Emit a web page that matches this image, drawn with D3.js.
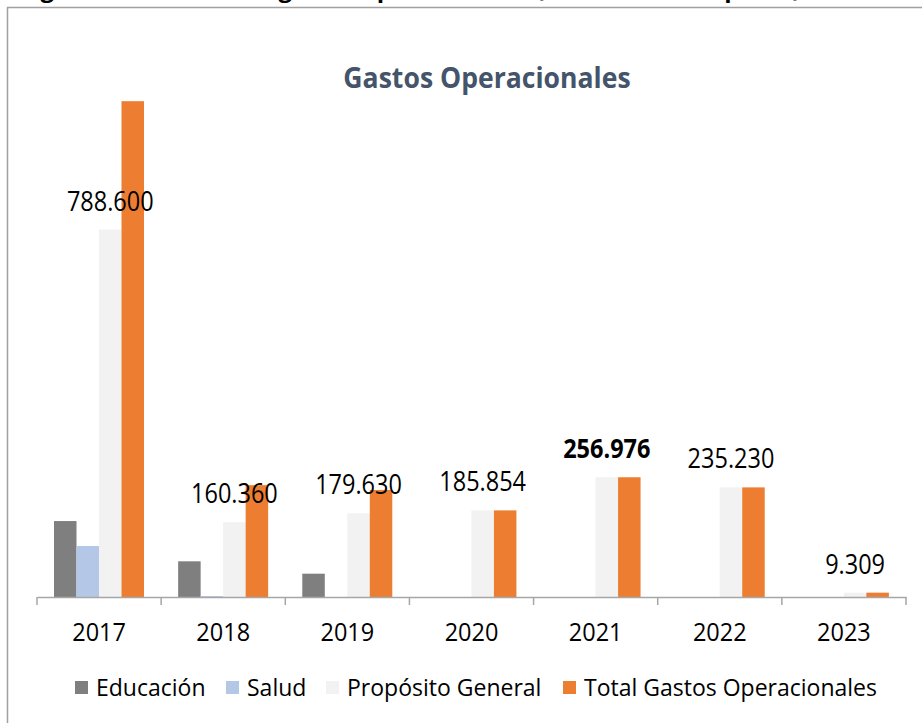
<!DOCTYPE html>
<html>
<head>
<meta charset="utf-8">
<script src="https://cdn.jsdelivr.net/npm/d3@7"></script>
<style>
  body { margin: 0; background: #fff; }
  svg { display: block; font-family: "Open Sans", sans-serif; }
</style>
</head>
<body>
<svg width="922" height="723"></svg>
<script>
// values (labels are thousands, "." separator)
var years      = ["2017", "2018", "2019", "2020", "2021", "2022", "2023"];
var series     = ["Educación", "Salud", "Propósito General", "Total Gastos Operacionales"];
var educacion  = [163000, 76600, 50000, 0, 0, 0, 0];
var salud      = [109400, 2000, 0, 0, 0, 0, 0];
var proposito  = [788600, 160360, 179630, 185854, 256976, 235230, 9309];
var totalGasto = [1064000, 240000, 229630, 185854, 256976, 235230, 9309];
var colors     = ["#7f7f7f", "#b4c7e7", "#f2f2f2", "#ed7d31"];
var boldYear   = "2021";

var svg = d3.select("svg"),
    sx  = 0.87;   // the original text looks squeezed sideways

var fmt = d3.formatLocale({decimal: ",", thousands: ".", grouping: [3], currency: ["$", ""]}).format(",");

function place(sel, x, y, k) {
  return sel.attr("transform", "translate(" + x + "," + y + ") scale(" + (k || sx) + ",1)");
}

var table = years.map(function (yr, i) {
  return {year: yr, vals: [educacion[i], salud[i], proposito[i], totalGasto[i]]};
});

// caption of the page, mostly cut off at the top
place(svg.append("text"), 20, -3, 1)
  .attr("font-weight", "bold")
  .attr("font-size", 24)
  .attr("fill", "#000")
  .text("Figura 6. Histórico de gastos operacionales (en millones de pesos)");

// chart frame
svg.append("rect")
  .attr("x", 7.5).attr("y", 7.5)
  .attr("width", 1000).attr("height", 1000)
  .attr("fill", "none")
  .attr("stroke", "#a0a0a0")
  .attr("stroke-width", 1.5);

var x = d3.scaleBand()
  .domain(years)
  .range([37, 906]);

var xs = d3.scaleBand()
  .domain(series)
  .range([17, 107]);

var y = d3.scaleLinear()
  .domain([0, 1000000])
  .range([597, 131]);

var groups = svg.selectAll(".yr")
  .data(table)
  .enter().append("g")
    .attr("class", "yr")
    .attr("transform", function (d) { return "translate(" + x(d.year) + ",0)"; });

groups.selectAll("rect")
  .data(function (d) { return d.vals; })
  .enter().append("rect")
    .attr("x", function (d, i) { return xs(series[i]); })
    .attr("y", function (d) { return y(d); })
    .attr("width", xs.bandwidth())
    .attr("height", function (d) { return y(0) - y(d); })
    .attr("fill", function (d, i) { return colors[i]; });

// labels sit over the Propósito General bar
groups.each(function (d) {
  var cx = xs(series[2]) + xs.bandwidth() / 2;
  place(d3.select(this).append("text"), cx, y(d.vals[2]) - 19)
    .attr("text-anchor", "middle")
    .attr("font-size", 27)
    .attr("font-weight", d.year === boldYear ? "bold" : "normal")
    .attr("fill", "#000")
    .text(fmt(d.vals[2]));
});

// x axis
var axis = svg.append("g")
  .attr("transform", "translate(0," + y(0) + ")")
  .call(d3.axisBottom(x).tickSize(0).tickFormat(""));
axis.select(".domain").attr("stroke", "#a6a6a6").attr("stroke-width", 1.5);
axis.selectAll(".tick").remove();

svg.append("g").selectAll("line")
  .data(years.concat(["end"]))
  .enter().append("line")
    .attr("x1", function (d) { return d === "end" ? x.range()[1] : x(d); })
    .attr("x2", function (d) { return d === "end" ? x.range()[1] : x(d); })
    .attr("y1", y(0))
    .attr("y2", y(0) + 8)
    .attr("stroke", "#a6a6a6")
    .attr("stroke-width", 1.5);

svg.append("g").selectAll("text")
  .data(years)
  .enter().append("text")
    .each(function (d) { place(d3.select(this), x(d) + x.bandwidth() / 2, 641, 0.94); })
    .attr("text-anchor", "middle")
    .attr("font-size", 25)
    .attr("fill", "#000")
    .text(function (d) { return d; });

// title
place(svg.append("text"), 487, 88, 0.95)
  .attr("text-anchor", "middle")
  .attr("font-size", 28)
  .attr("font-weight", "bold")
  .attr("fill", "#44546a")
  .text("Gastos Operacionales");

// legend
var legX = [75, 226, 326, 563];
var leg = svg.append("g").selectAll("g")
  .data(series)
  .enter().append("g")
    .attr("transform", function (d, i) { return "translate(" + legX[i] + ",681)"; });

leg.append("rect")
  .attr("width", 13).attr("height", 13)
  .attr("fill", function (d, i) { return colors[i]; });

leg.append("text")
  .each(function () { place(d3.select(this), 21, 15, 1.0); })
  .attr("font-size", 23)
  .attr("fill", "#000")
  .text(function (d) { return d; });
</script>
</body>
</html>
